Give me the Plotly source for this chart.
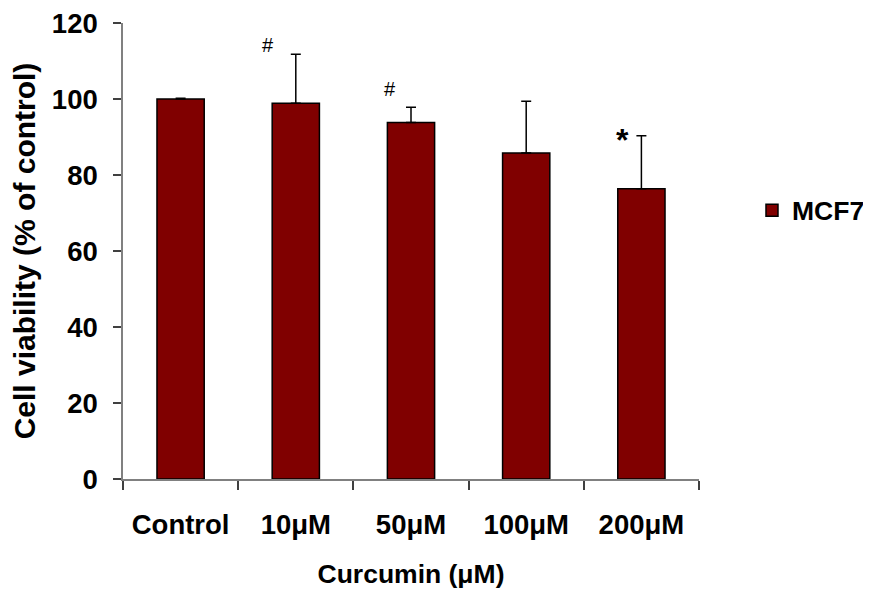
import plotly.graph_objects as go

categories = ["Control", "10μM", "50μM", "100μM", "200μM"]
viability = [100.0, 98.9, 93.8, 85.8, 76.4]
errors_up = [0.2, 12.9, 4.0, 13.6, 13.9]
significance = ["", "#", "#", "", "*"]
series_name = "MCF7"
y_ticks = [0, 20, 40, 60, 80, 100, 120]

FONT = "Liberation Sans, Arial, sans-serif"

fig = go.Figure()
fig.add_trace(go.Bar(
    x=categories, y=viability, name=series_name,
    marker=dict(color="#800000", line=dict(color="#000000", width=1.5)),
    width=0.41,
    error_y=dict(type="data", symmetric=False, array=errors_up,
                 arrayminus=[0] * len(errors_up),
                 color="#000000", thickness=1.5, width=5),
    showlegend=True,
))

# significance markers (offsets are label placement styling only)
offsets = [None, (-0.245, 9), (-0.18, 18), None, (-0.16, -4)]
for i, (cat, mark) in enumerate(zip(categories, significance)):
    if not mark:
        continue
    dx, dy = offsets[i]
    top = viability[i] + errors_up[i]
    fig.add_annotation(
        x=i + dx, y=top, xref="x", yref="y", text=mark, showarrow=False,
        yshift=dy,
        font=dict(family=FONT, size=20 if mark == "#" else 32,
                  color="#000000", weight="normal" if mark == "#" else "bold"),
    )

fig.update_layout(
    width=871, height=596,
    margin=dict(l=115, r=180, t=15, b=125, autoexpand=False),
    paper_bgcolor="white", plot_bgcolor="white",
    font=dict(family=FONT, size=27, color="#000000", weight="bold"),
    bargap=0.59,
    showlegend=True,
    legend=dict(x=1.092, y=0.589, xanchor="left", yanchor="middle",
                font=dict(family=FONT, size=26.5, color="#000000", weight="bold"),
                bgcolor="rgba(0,0,0,0)", borderwidth=0),
    xaxis=dict(
        type="category", range=[-0.5, 4.5], automargin=False,
        showline=True, linecolor="#808080", linewidth=1.5,
        ticks="outside", tickson="boundaries", ticklen=9, tickcolor="#404040", tickwidth=1.5,
        tickfont=dict(family=FONT, size=27.5, color="#000000", weight="bold"),
        ticklabelstandoff=20, ticklabeloverflow="allow",
        title=dict(text="Curcumin (μM)", standoff=26,
                   font=dict(family=FONT, size=26.5, color="#000000", weight="bold")),
        showgrid=False, zeroline=False,
    ),
    yaxis=dict(
        range=[0, 120], tickvals=y_ticks, ticktext=[str(v) for v in y_ticks],
        automargin=False,
        showline=True, linecolor="#808080", linewidth=1.5,
        ticks="outside", ticklen=8, tickcolor="#404040", tickwidth=1.5,
        tickfont=dict(family=FONT, size=27.5, color="#000000", weight="bold"),
        ticklabelstandoff=10, ticklabeloverflow="allow",
        title=dict(text="Cell viability (% of control)", standoff=12,
                   font=dict(family=FONT, size=30, color="#000000", weight="bold")),
        showgrid=False, zeroline=False,
    ),
)

fig.write_html("out.html")
